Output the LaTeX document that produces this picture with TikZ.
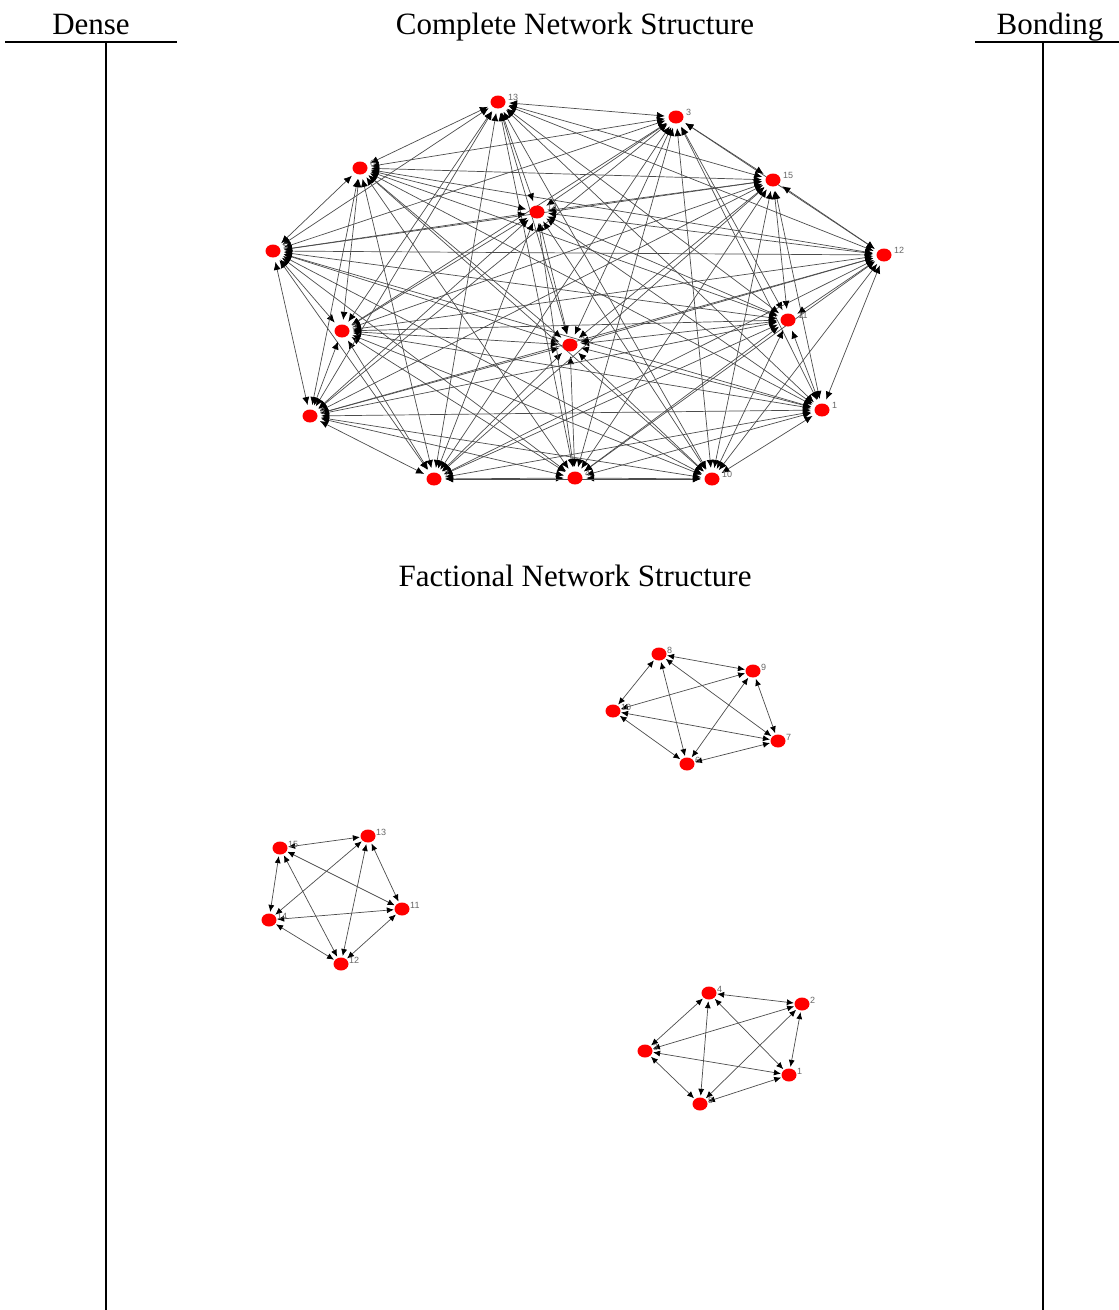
\documentclass[tikz,border=0pt]{standalone}
\usepackage{fontspec}
\setmainfont{Liberation Serif}
\newfontfamily\tagfont{Liberation Sans}
\usetikzlibrary{arrows.meta,shapes.geometric}

\begin{document}
\begin{tikzpicture}[x=1pt,y=-1pt,
  title/.style={font=\fontsize{31}{36}\selectfont, anchor=base, inner sep=0pt},
  rule/.style={line width=1.6pt},
  hub/.style={circle, minimum size=22pt, inner sep=0pt},
  sub/.style={circle, minimum size=16pt, inner sep=0pt},
  dot/.style={ellipse, fill=red, minimum width=15pt, minimum height=13pt, inner sep=0pt},
  tag/.style={font=\tagfont\fontsize{9}{9}\selectfont, text=black!60, anchor=west, inner sep=0pt},
  link/.style={draw=black!70, line width=0.7pt,
    {Latex[length=8pt,width=7pt,color=black]}-{Latex[length=8pt,width=7pt,color=black]}},
  flink/.style={draw=black!70, line width=0.7pt,
    {Latex[length=7pt,width=6pt,color=black]}-{Latex[length=7pt,width=6pt,color=black]}},
]
\useasboundingbox (0,0) rectangle (1119,1310);

% column headings and rules
\node[title] (dense) at (91,34) {Dense};
\node[title] (bonding) at (1050,34) {Bonding};
\node[title] (complete) at (575,34) {Complete Network Structure};
\node[title] (factional) at (575,586) {Factional Network Structure};

\coordinate (lruleA) at (5,42);
\coordinate (lruleB) at (177,42);
\coordinate (lstemA) at (106,42);
\coordinate (lstemB) at (106,1310);
\coordinate (rruleA) at (975,42);
\coordinate (rruleB) at (1119,42);
\coordinate (rstemA) at (1043,42);
\coordinate (rstemB) at (1043,1310);
\draw[rule] (lruleA) -- (lruleB);
\draw[rule] (lstemA) -- (lstemB);
\draw[rule] (rruleA) -- (rruleB);
\draw[rule] (rstemA) -- (rstemB);

% complete network: every actor tied to every other
\def\hublist{13/498/102, 3/676/117, 6/360/168, 15/773/180, 14/537/212,
  5/273/251, 12/884/255, 11/788/320, 9/342/331, 2/570/345,
  8/310/416, 1/822/410, 7/434/479, 4/575/478, 10/712/479}
\foreach \n/\x/\y in \hublist {\node[hub] (c\n) at (\x,\y) {};}
\foreach \i in {1,...,15}{
  \foreach \j in {1,...,15}{
    \ifnum\j>\i \draw[link] (c\i) -- (c\j); \fi
  }
}
\foreach \n/\x/\y in \hublist {
  \node[dot] (cd\n) at (c\n) {};
  \node[tag] (ct\n) at (\x+10,\y-5) {\n};
}

% factional network: three closed cliques of five
\def\sublist{8/659/654, 9/753/671, 10/613/711, 7/778/741, 6/687/764,
  15/280/848, 13/368/836, 11/402/909, 14/269/920, 12/341/964,
  4/709/993, 2/802/1004, 3/645/1051, 1/789/1075, 5/700/1104}
\foreach \n/\x/\y in \sublist {\node[sub] (f\n) at (\x,\y) {};}
\foreach \g in {0,5,10}{
  \foreach \i in {1,...,5}{
    \foreach \j in {1,...,5}{
      \ifnum\j>\i
        \pgfmathtruncatemacro\ma{\g+\i}
        \pgfmathtruncatemacro\mb{\g+\j}
        \draw[flink] (f\ma) -- (f\mb);
      \fi
    }
  }
}
\foreach \n/\x/\y in \sublist {
  \node[dot] (fd\n) at (f\n) {};
  \node[tag] (ft\n) at (\x+8,\y-4) {\n};
}
\end{tikzpicture}
\end{document}
